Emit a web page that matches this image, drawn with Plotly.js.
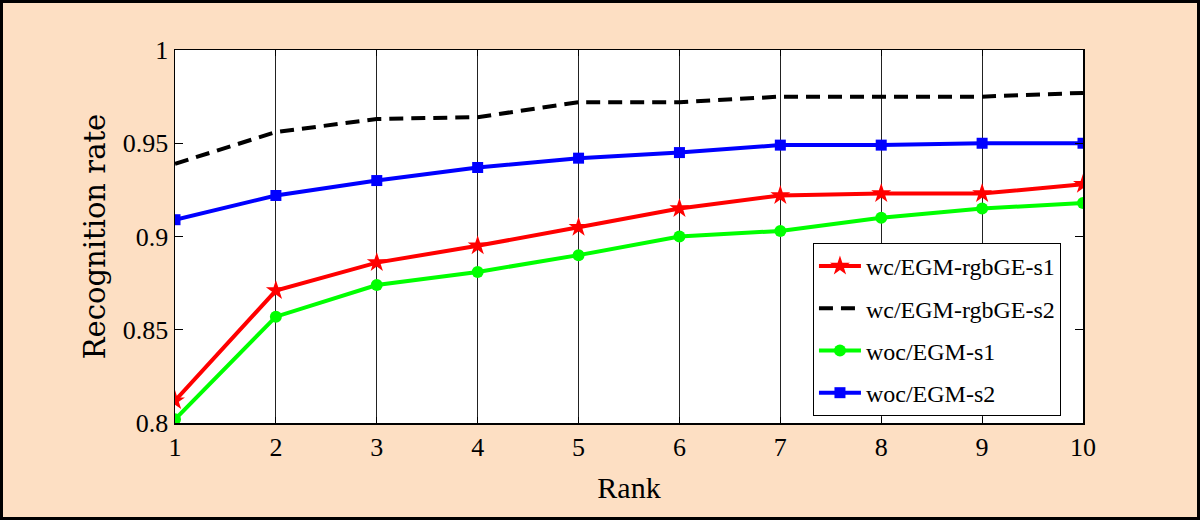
<!DOCTYPE html>
<html>
<head>
<meta charset="utf-8">
<script src="https://cdn.plot.ly/plotly-3.0.1.min.js"></script>
<style>
  html, body { margin: 0; padding: 0; background: #fddfc3; }
  #chart { width: 1200px; height: 520px; box-sizing: border-box; border: 3px solid #000; }
</style>
</head>
<body>
<div id="chart"></div>
<script>
const ranks = [1, 2, 3, 4, 5, 6, 7, 8, 9, 10];
const wcRgbS1 = [0.812, 0.871, 0.886, 0.895, 0.905, 0.915, 0.922, 0.923, 0.923, 0.928];
const wcRgbS2 = [0.939, 0.956, 0.963, 0.964, 0.972, 0.972, 0.975, 0.975, 0.975, 0.977];
const wocS1   = [0.802, 0.857, 0.874, 0.881, 0.890, 0.900, 0.903, 0.910, 0.915, 0.918];
const wocS2   = [0.909, 0.922, 0.930, 0.937, 0.942, 0.945, 0.949, 0.949, 0.950, 0.950];
const seriesNames = ['wc/EGM-rgbGE-s1', 'wc/EGM-rgbGE-s2', 'woc/EGM-s1', 'woc/EGM-s2'];
const yTicks = [0.8, 0.85, 0.9, 0.95, 1];
const yTickText = ['0.8', '0.85', '0.9', '0.95', '1'];
const xTickText = ['1', '2', '3', '4', '5', '6', '7', '8', '9', '10'];

const serif = 'Liberation Serif, Times New Roman, serif';

const traces = [
  {x: ranks, y: wcRgbS1, name: seriesNames[0], legendgroup: 'a', mode: 'lines+markers',
   line: {color: '#ff0000', width: 4}, marker: {symbol: 'star', size: 15, color: '#ff0000'}},
  {x: ranks, y: wcRgbS2, name: seriesNames[1], legendgroup: 'b', mode: 'lines',
   line: {color: '#000000', width: 4, dash: '14px,8px'}},
  {x: ranks, y: wocS1, name: seriesNames[2], legendgroup: 'c', mode: 'lines+markers',
   line: {color: '#00ff00', width: 4}, marker: {symbol: 'circle', size: 12, color: '#00ff00'}},
  {x: ranks, y: wocS2, name: seriesNames[3], legendgroup: 'd', mode: 'lines+markers',
   line: {color: '#0000ff', width: 4}, marker: {symbol: 'square', size: 11, color: '#0000ff'}}
];

const layout = {
  width: 1194, height: 514,
  margin: {l: 172, r: 114, t: 47, b: 94},
  paper_bgcolor: '#fddfc3',
  plot_bgcolor: '#ffffff',
  font: {family: serif, color: '#000'},
  showlegend: true,
  legend: {
    x: 0.7026, y: 0.4826, xanchor: 'left', yanchor: 'top',
    bgcolor: '#ffffff', bordercolor: '#000000', borderwidth: 1,
    font: {family: serif, size: 24, color: '#000'},
    traceorder: 'grouped', tracegroupgap: 8, itemwidth: 42
  },
  xaxis: {
    range: [1, 10], tickvals: ranks, ticktext: xTickText,
    showgrid: true, gridcolor: '#222', gridwidth: 1.2,
    showline: true, linecolor: '#000', linewidth: 1.5, mirror: 'ticks',
    ticks: 'inside', ticklen: 6, tickcolor: '#000',
    zeroline: false,
    tickfont: {family: serif, size: 26},
    title: {text: 'Rank', font: {family: serif, size: 30}, standoff: 16}
  },
  yaxis: {
    range: [0.8, 1], tickvals: yTicks, ticktext: yTickText,
    showgrid: false,
    showline: true, linecolor: '#000', linewidth: 1.5, mirror: 'ticks',
    ticks: 'inside', ticklen: 8, tickcolor: '#000',
    zeroline: false,
    tickfont: {family: serif, size: 26},
    title: {text: 'Recognition rate', font: {family: 'DejaVu Serif, serif', size: 29}, standoff: 8}
  }
};

Plotly.newPlot('chart', traces, layout, {displayModeBar: false, staticPlot: true});
</script>
</body>
</html>
